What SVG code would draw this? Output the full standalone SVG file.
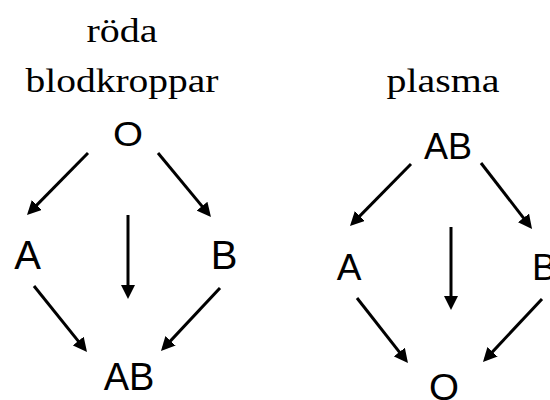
<svg xmlns="http://www.w3.org/2000/svg" width="550" height="400" viewBox="0 0 550 400">
<style>
.title{font-family:"Liberation Serif","Times New Roman",serif;font-size:34px;fill:#000;text-anchor:middle}
.lbl{font-family:"Liberation Sans",Arial,sans-serif;fill:#000;text-anchor:middle}
.edge{stroke:#000;stroke-width:3;fill:none;marker-end:url(#ah)}
</style>
<defs>
<marker id="ah" viewBox="0 0 14 14" markerWidth="14" markerHeight="14" refX="10" refY="7" orient="auto" markerUnits="userSpaceOnUse">
<path d="M0,0 L14,7 L0,14 Z" fill="#000"/>
</marker>
</defs>
<rect width="550" height="400" fill="#fff"/>
<g id="titles">
<text class="title" x="122" y="42" textLength="71" lengthAdjust="spacingAndGlyphs">röda</text>
<text class="title" x="122" y="92" textLength="193" lengthAdjust="spacingAndGlyphs">blodkroppar</text>
<text class="title" x="443" y="92" textLength="113" lengthAdjust="spacingAndGlyphs">plasma</text>
</g>
<g id="L-O"><text class="lbl" x="128" y="145.5" font-size="35" textLength="30" lengthAdjust="spacingAndGlyphs">O</text></g>
<g id="L-A"><text class="lbl" x="27.5" y="269" font-size="40">A</text></g>
<g id="L-B"><text class="lbl" x="224" y="269" font-size="40">B</text></g>
<g id="L-AB"><text class="lbl" x="129" y="390" font-size="38">AB</text></g>
<g id="R-AB"><text class="lbl" x="448" y="159" font-size="36">AB</text></g>
<g id="R-A"><text class="lbl" x="349" y="280" font-size="37">A</text></g>
<g id="R-B"><text class="lbl" x="532" y="279.5" font-size="37" style="text-anchor:start">B</text></g>
<g id="R-O"><text class="lbl" x="444" y="400" font-size="37" textLength="30" lengthAdjust="spacingAndGlyphs">O</text></g>
<g id="connectors">
<path class="edge" d="M88,153 L29.8,212.1"/>
<path class="edge" d="M158,153 L208.4,213.9"/>
<path class="edge" d="M128,215 L128,295"/>
<path class="edge" d="M34,286 L84.5,348.9"/>
<path class="edge" d="M220,288 L163.7,348.1"/>
<path class="edge" d="M411,164 L352.8,223.1"/>
<path class="edge" d="M481,163 L529.6,225.8"/>
<path class="edge" d="M451,227 L451,306"/>
<path class="edge" d="M357,298 L405.5,359.9"/>
<path class="edge" d="M542,299 L485.7,359.1"/>
</g>
</svg>
